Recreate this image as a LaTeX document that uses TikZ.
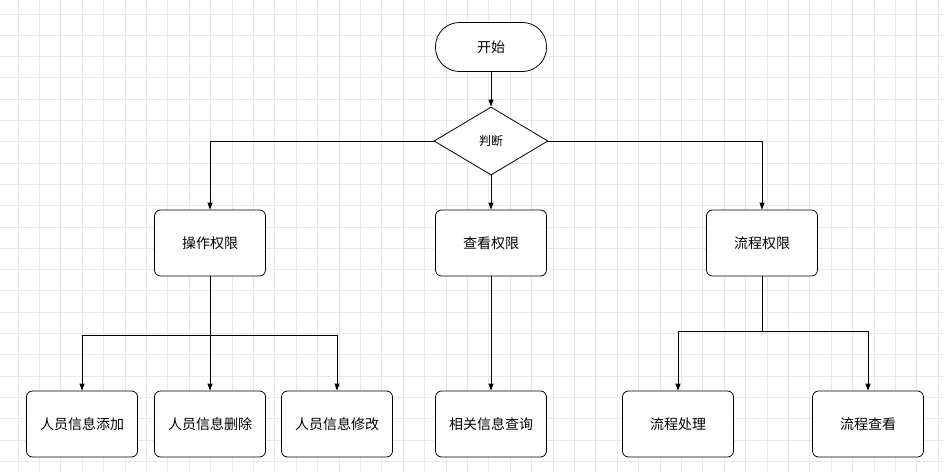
\documentclass[tikz,border=0pt]{standalone}
\usepackage{fontspec}
\newfontfamily\cjk{Noto Sans CJK SC}
\usetikzlibrary{shapes.geometric,arrows.meta}
\begin{document}
\begin{tikzpicture}[x=1pt,y=-1pt,
  box/.style={draw=black,line width=0.8pt,fill=white,rounded corners=6pt,minimum width=111pt,minimum height=66pt,font=\cjk\fontsize{14}{16}\selectfont,inner sep=0pt},
  pill/.style={box,rounded corners=24pt,minimum height=49pt},
  dia/.style={diamond,draw=black,line width=0.8pt,fill=white,aspect=1.68,minimum width=114pt,minimum height=68pt,inner sep=0pt,font=\cjk\fontsize{12}{14}\selectfont},
  arr/.style={draw=black,line width=0.8pt,-{Triangle[length=7pt,width=5pt]}},
  ln/.style={draw=black,line width=0.8pt}]
\useasboundingbox (0,0) rectangle (944,471);
\fill[white] (0,0) rectangle (944,471);
\foreach \i in {0,...,43} \draw[black!9,line width=1pt] (18+21.4*\i,0) -- (18+21.4*\i,471);
\foreach \j in {0,...,21} \draw[black!9,line width=1pt] (0,14+21.3*\j) -- (944,14+21.3*\j);
\node[pill] (start) at (491,47) {开始};
\node[dia] (judge) at (491,141) {判断};
\node[box] (op) at (210,243) {操作权限};
\node[box] (view) at (491,243) {查看权限};
\node[box] (flow) at (762,243) {流程权限};
\node[box] (b1) at (82,424) {人员信息添加};
\node[box] (b2) at (210,424) {人员信息删除};
\node[box] (b3) at (337,424) {人员信息修改};
\node[box] (b4) at (491,424) {相关信息查询};
\node[box] (b5) at (678,424) {流程处理};
\node[box] (b6) at (868,424) {流程查看};
\coordinate (j1) at (210,335);
\coordinate (j2) at (762,331);
\draw[arr] (start) -- (judge);
\draw[arr] (judge.west) -| (op.north);
\draw[arr] (judge.east) -| (flow.north);
\draw[arr] (judge) -- (view);
\draw[arr] (view) -- (b4);
\draw[ln] (op.south) -- (j1);
\draw[arr] (j1) -- (b2);
\draw[arr] (j1) -| (b1.north);
\draw[arr] (j1) -| (b3.north);
\draw[ln] (flow.south) -- (j2);
\draw[arr] (j2) -| (b5.north);
\draw[arr] (j2) -| (b6.north);
\end{tikzpicture}
\end{document}
